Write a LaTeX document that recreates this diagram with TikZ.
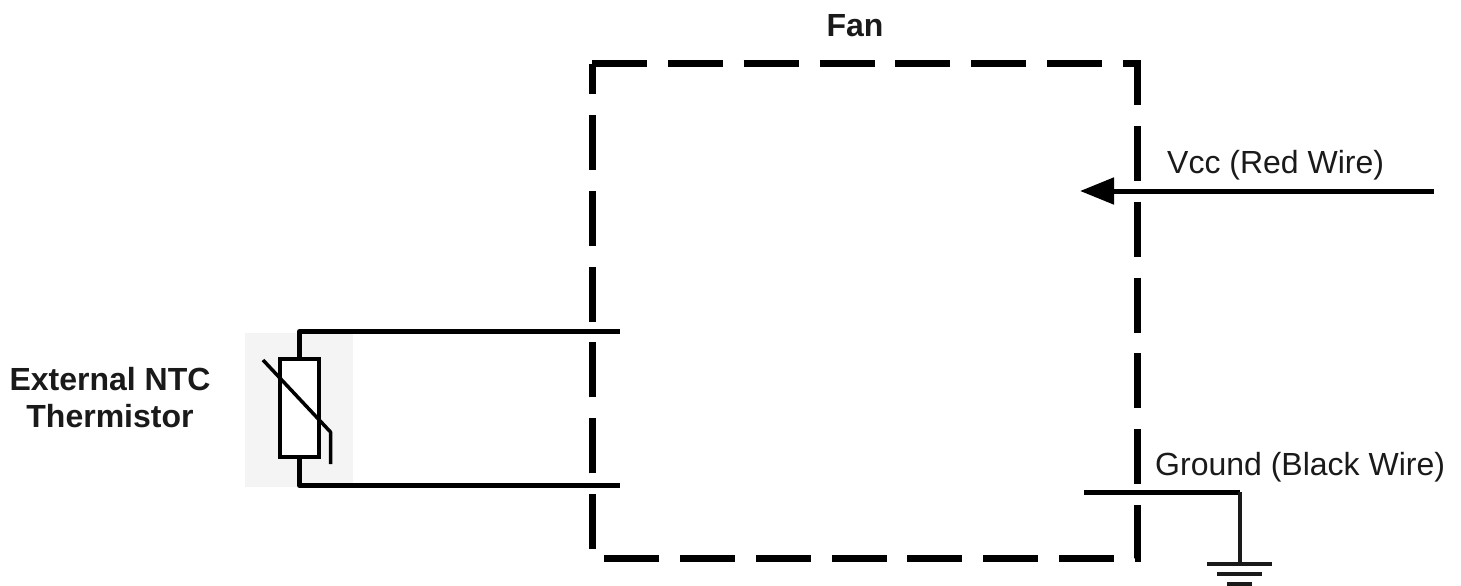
\documentclass[tikz,border=0pt]{standalone}
\usepackage{fontspec}
\setmainfont{Liberation Sans}
\usetikzlibrary{arrows.meta}
\definecolor{patch}{HTML}{F4F4F4}
\definecolor{ink}{HTML}{1A1A1A}
\tikzset{
  fanbox/.style={draw=black,line width=7pt,dash pattern=on 55pt off 20.85pt,line join=miter},
  wire/.style={draw=black,line width=5pt,line join=round},
  thinwire/.style={draw=black,line width=3.5pt,line join=round},
  gbar/.style={draw=ink,line width=3.5pt},
  boldlabel/.style={font=\fontsize{32}{37}\selectfont\bfseries,align=center,text=ink,inner sep=0pt},
  plainlabel/.style={font=\fontsize{32}{37}\selectfont,anchor=west,text=ink,inner sep=0pt},
  thermbody/.style={draw=black,fill=white,line width=4pt,minimum width=39pt,minimum height=98pt,inner sep=0pt}
}
\begin{document}
\begin{tikzpicture}[x=1pt,y=-1pt]
\useasboundingbox (0,0) rectangle (1461,586);
\fill[white] (0,0) rectangle (1461,586);
\fill[patch] (245,333) rectangle (353,487);
% fan box
\coordinate (tl) at (592,64);
\coordinate (tr) at (1137,64);
\coordinate (br) at (1137,558);
\coordinate (bl) at (592,558);
\draw[fanbox] (tl) -- (tr) -- (br) -- (bl) -- cycle;
% thermistor
\node[thermbody] (therm) at (299.5,408) {};
\coordinate (ta) at (299.5,331.5);
\coordinate (tb) at (620,331.5);
\coordinate (ba) at (299.5,485.5);
\coordinate (bb) at (620,485.5);
\draw[wire] (therm.north) -- (ta) -- (tb);
\draw[wire] (therm.south) -- (ba) -- (bb);
\coordinate (d1) at (263,360);
\coordinate (d2) at (330.5,432);
\coordinate (d3) at (330.5,464);
\draw[thinwire] (d1) -- (d2) -- (d3);
% vcc
\coordinate (vs) at (1434,191);
\coordinate (ve) at (1080,191);
\draw[draw=black,line width=5pt,-{Triangle[length=34pt,width=26pt]}] (vs) -- (ve);
% ground
\coordinate (g0) at (1084,492);
\coordinate (g1) at (1240,492);
\coordinate (g2) at (1240,564);
\draw[draw=black,line width=5pt,line join=round] (g0) -- (g1);
\draw[draw=ink,line width=3.5pt] (g1) -- (g2);
\draw[gbar] (1207,564) -- (1272,564);
\draw[gbar] (1217,574) -- (1262,574);
\draw[gbar] (1227,584) -- (1252,584);
% labels
\node[boldlabel] (fan) at (855,26) {Fan};
\node[boldlabel] (ntc) at (110,398) {External NTC\\Thermistor};
\node[plainlabel] (vcc) at (1167,165) {Vcc (Red Wire)};
\node[plainlabel] (gnd) at (1155,467) {Ground (Black Wire)};
\end{tikzpicture}
\end{document}
